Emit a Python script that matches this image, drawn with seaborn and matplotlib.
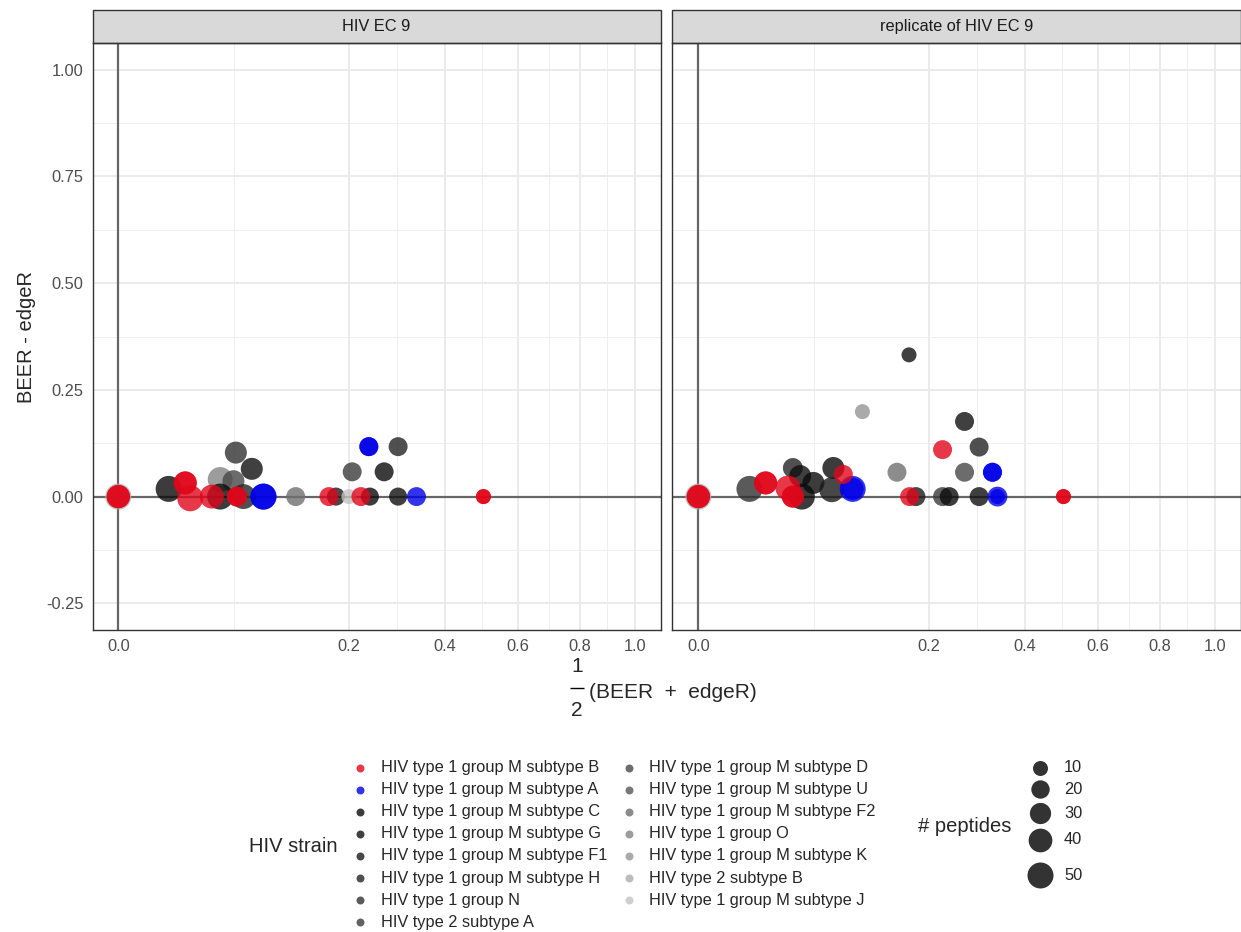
import numpy as np
import pandas as pd
import matplotlib
matplotlib.use("Agg")
import matplotlib.pyplot as plt
import seaborn as sns
from matplotlib.patches import Rectangle

sns.set_theme(style="white")
plt.rcParams["font.family"] = ["Liberation Sans", "DejaVu Sans"]

# ---- strains (legend order), labels and colours ----
strain_codes = ["M-B", "M-A", "M-C", "M-G", "M-F1", "M-H", "N", "2-A",
                "M-D", "M-U", "M-F2", "O", "M-K", "2-B", "M-J"]
strain_labels = ["HIV type 1 group M subtype B", "HIV type 1 group M subtype A",
                 "HIV type 1 group M subtype C", "HIV type 1 group M subtype G",
                 "HIV type 1 group M subtype F1", "HIV type 1 group M subtype H",
                 "HIV type 1 group N", "HIV type 2 subtype A",
                 "HIV type 1 group M subtype D", "HIV type 1 group M subtype U",
                 "HIV type 1 group M subtype F2", "HIV type 1 group O",
                 "HIV type 1 group M subtype K", "HIV type 2 subtype B",
                 "HIV type 1 group M subtype J"]
strain_colors = ["#E0061A", "#0000E6", "#0B0B0B", "#101010", "#1A1A1A", "#242424",
                 "#313131", "#3B3B3B", "#474747", "#565656", "#6F6F6F", "#838383",
                 "#959595", "#ABABAB", "#C2C2C2"]

# ---- sample "HIV EC 9" ----
ec9_strain = ["2-B", "M-C", "O", "M-D", "M-C", "N", "M-G", "M-H", "M-F2", "M-F1",
              "M-J", "M-C", "M-G", "2-A", "M-C", "M-H",
              "M-A", "M-A", "M-A", "M-A", "M-A",
              "M-B", "M-B", "M-B", "M-B", "M-B", "M-B", "M-B", "M-B", "M-B",
              "M-B", "M-B", "M-B"]
ec9_mean = [0.000, 0.0095, 0.0389, 0.0497, 0.0389, 0.0518, 0.0668, 0.0587, 0.118, 0.1776,
            0.1994, 0.2373, 0.2936, 0.2051, 0.265, 0.2936,
            0.079, 0.079, 0.2354, 0.2354, 0.3334,
            0.000, 0.000, 0.0168, 0.0168, 0.0194, 0.0328, 0.0527, 0.0527, 0.1664,
            0.2207, 0.500, 0.500]
ec9_diff = [0.000, 0.018, 0.040, 0.036, 0.000, 0.103, 0.065, 0.000, 0.000, 0.000,
            0.000, 0.000, 0.000, 0.058, 0.058, 0.117,
            0.000, 0.000, 0.117, 0.117, 0.000,
            0.000, 0.000, 0.032, 0.032, -0.004, 0.000, 0.000, 0.000, 0.000,
            0.000, 0.000, 0.000]
ec9_peptides = [52, 52, 45, 33, 52, 33, 33, 45, 22, 19,
                3, 19, 19, 22, 22, 22,
                55, 55, 22, 22, 22,
                38, 38, 37, 37, 50, 41, 25, 25, 22,
                22, 1, 1]

# ---- sample "replicate of HIV EC 9" ----
rep_strain = ["2-B", "N", "M-H", "M-G", "M-C", "M-C", "M-C", "M-F1", "M-G", "M-K",
              "M-F2", "M-F1", "2-A", "M-C", "M-G", "M-H", "M-D", "M-G",
              "M-A", "M-A", "M-A", "M-A", "M-A", "M-A",
              "M-B", "M-B", "M-B", "M-B", "M-B", "M-B", "M-B", "M-B", "M-B",
              "M-B", "M-B", "M-B"]
rep_mean = [0.000, 0.0098, 0.0335, 0.0389, 0.0402, 0.0497, 0.0684, 0.0668, 0.1665, 0.101,
            0.148, 0.1776, 0.2237, 0.236, 0.2658, 0.2957, 0.2658, 0.2957,
            0.0894, 0.0894, 0.3245, 0.3245, 0.3356, 0.3356,
            0.000, 0.000, 0.017, 0.017, 0.0301, 0.0335, 0.0335, 0.0789, 0.1675,
            0.2237, 0.500, 0.500]
rep_diff = [0.000, 0.018, 0.067, 0.048, 0.000, 0.032, 0.067, 0.016, 0.332, 0.199,
            0.057, 0.000, 0.000, 0.000, 0.176, 0.116, 0.057, 0.000,
            0.018, 0.018, 0.057, 0.057, 0.000, 0.000,
            0.000, 0.000, 0.032, 0.032, 0.020, 0.000, 0.000, 0.052, 0.000,
            0.110, 0.000, 0.000]
rep_peptides = [52, 55, 25, 33, 50, 33, 33, 45, 1, 3,
                22, 22, 22, 22, 22, 22, 22, 22,
                55, 33, 22, 22, 25, 7,
                38, 38, 37, 37, 45, 33, 33, 22, 22,
                22, 1, 1]

panel_titles = ["HIV EC 9", "replicate of HIV EC 9"]
x_breaks = [0.0, 0.2, 0.4, 0.6, 0.8, 1.0]
x_labels = ["0.0", "0.2", "0.4", "0.6", "0.8", "1.0"]
y_breaks = [-0.25, 0.0, 0.25, 0.50, 0.75, 1.00]
y_labels = ["-0.25", "0.00", "0.25", "0.50", "0.75", "1.00"]
size_breaks = [10, 20, 30, 40, 50]

palette = dict(zip(strain_codes, strain_colors))
SIZE_NORM = (10, 50)
SIZE_RANGE = (116.6, 350.4)   # marker area (pt^2) at the two norm ends
ALPHA = 0.8


def area_for(v):
    lo, hi = SIZE_NORM
    return SIZE_RANGE[0] + (v - lo) / (hi - lo) * (SIZE_RANGE[1] - SIZE_RANGE[0])


def sqrt_fwd(v):
    v = np.asarray(v, dtype=float)
    return np.sign(v) * np.sqrt(np.abs(v))


def sqrt_inv(v):
    v = np.asarray(v, dtype=float)
    return np.sign(v) * v ** 2


frames = [
    pd.DataFrame({"mean": ec9_mean, "diff": ec9_diff, "peptides": ec9_peptides,
                  "strain": ec9_strain}),
    pd.DataFrame({"mean": rep_mean, "diff": rep_diff, "peptides": rep_peptides,
                  "strain": rep_strain}),
]

W, H = 1241, 932
fig = plt.figure(figsize=(W / 100, H / 100), dpi=100)
fig.patch.set_facecolor("white")


def box(l, t, r, b):
    return [l / W, 1 - b / H, (r - l) / W, (b - t) / H]


panel_top, panel_bot, strip_top = 43, 630, 10
axes = [fig.add_axes(box(92.5, panel_top, 660.5, panel_bot)),
        fig.add_axes(box(672.5, panel_top, 1240.5, panel_bot))]

# minor breaks sit half way between majors on the sqrt scale
xb = sqrt_fwd(x_breaks)
x_minor = sqrt_inv((xb[:-1] + xb[1:]) / 2)
y_minor = [(a + b) / 2 for a, b in zip(y_breaks[:-1], y_breaks[1:])]

for i, (ax, df, title) in enumerate(zip(axes, frames, panel_titles)):
    ax.set_facecolor("white")
    ax.set_xscale("function", functions=(sqrt_fwd, sqrt_inv))
    ax.set_xlim(-0.05 ** 2, 1.05 ** 2)
    ax.set_ylim(-0.3125, 1.0625)
    ax.set_xticks(x_breaks)
    ax.set_xticklabels(x_labels)
    ax.set_xticks(x_minor, minor=True)
    ax.set_yticks(y_breaks)
    ax.set_yticklabels(y_labels)
    ax.set_yticks(y_minor, minor=True)
    ax.set_axisbelow(True)
    ax.grid(which="major", color="#EBEBEB", linewidth=1.4)
    ax.grid(which="minor", color="#EFEFEF", linewidth=0.7)
    ax.tick_params(which="minor", length=0)
    ax.tick_params(which="major", direction="out", length=3.6, width=1.0,
                   color="#333333", labelsize=11.8, labelcolor="#4D4D4D", pad=3)
    if i == 1:
        ax.tick_params(axis="y", which="both", left=False, labelleft=False)
    for sp in ax.spines.values():
        sp.set_color("#333333")
        sp.set_linewidth(1.0)
        sp.set_zorder(6)

    ax.axhline(0, color="#666666", linewidth=1.6, zorder=1.5)
    ax.axvline(0, color="#666666", linewidth=1.6, zorder=1.5)

    sns.scatterplot(data=df, x="mean", y="diff", hue="strain", hue_order=strain_codes,
                    palette=palette, size="peptides", sizes=SIZE_RANGE,
                    size_norm=SIZE_NORM, alpha=ALPHA, linewidth=0, legend=False,
                    ax=ax, zorder=3)
    ax.set_xlabel("")
    ax.set_ylabel("")

    # facet strip
    sh = (panel_top - strip_top) / (panel_bot - panel_top)
    ax.add_patch(Rectangle((0, 1), 1, sh, transform=ax.transAxes, clip_on=False,
                           facecolor="#D9D9D9", edgecolor="#333333", linewidth=1.0,
                           zorder=5))
    ax.text(0.5, 1 + sh / 2, title, transform=ax.transAxes, ha="center",
            va="center", fontsize=11.8, color="#1A1A1A", zorder=6)

# overlay in pixel coordinates for titles and legends
leg = fig.add_axes([0, 0, 1, 1])
leg.set_xlim(0, W)
leg.set_ylim(H, 0)
leg.axis("off")
leg.patch.set_alpha(0)

# x title: one half of (BEER + edgeR), written as a stacked fraction
leg.text(577, 667, "1", ha="center", va="center", fontsize=15)
leg.plot([570, 584], [688, 688], color="black", linewidth=1.0, solid_capstyle="butt")
leg.text(577, 710, "2", ha="center", va="center", fontsize=15)
leg.text(589, 692, "(BEER  +  edgeR)", ha="left", va="center", fontsize=15)

# y title
leg.text(27, 337, "BEER - edgeR", ha="center", va="center", rotation=90, fontsize=14.5)

leg.text(249, 846, "HIV strain", ha="left", va="center", fontsize=14.5)
row_h = 22.1
for k, (code, lab) in enumerate(zip(strain_codes, strain_labels)):
    col, row = divmod(k, 8)
    kx = 359.5 if col == 0 else 629
    tx = 380.7 if col == 0 else 649
    y = 767.5 + row_h * row
    leg.scatter([kx], [y], s=33, color=palette[code], alpha=ALPHA, linewidth=0)
    leg.text(tx, y, lab, ha="left", va="center", fontsize=11.8)

leg.text(918, 826, "# peptides", ha="left", va="center", fontsize=14.5)
size_key_y = [768, 789, 813, 840, 875]
for v, y in zip(size_breaks, size_key_y):
    leg.scatter([1040], [y], s=area_for(v), color="black", alpha=ALPHA, linewidth=0)
    leg.text(1064, y, str(v), ha="left", va="center", fontsize=11.8)

fig.savefig("out.png", dpi=100)
